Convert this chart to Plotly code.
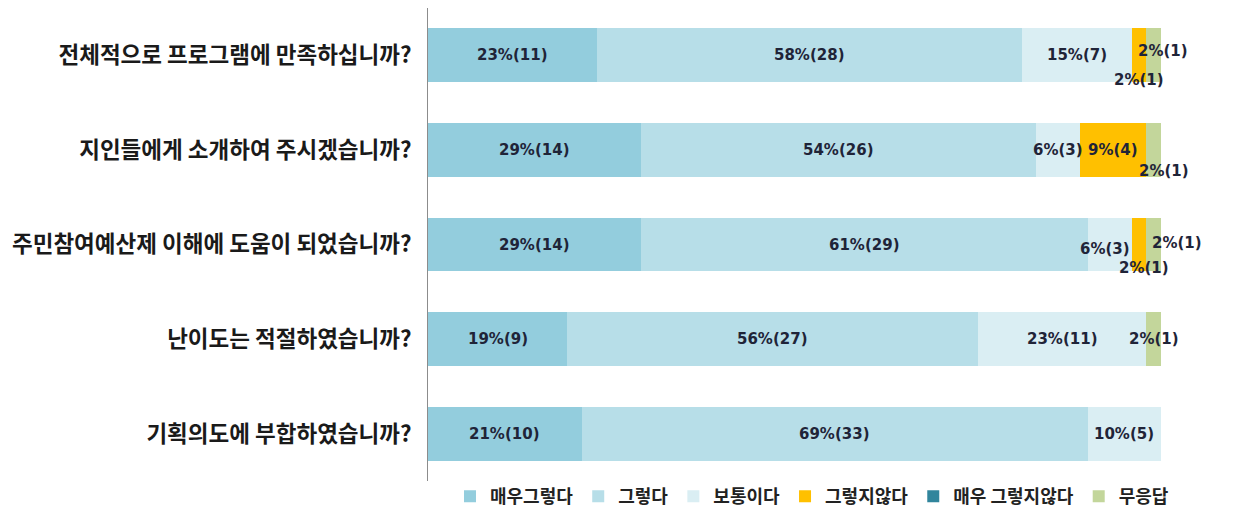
import plotly.graph_objects as go

questions = [
    "전체적으로 프로그램에 만족하십니까?",
    "지인들에게 소개하여 주시겠습니까?",
    "주민참여예산제 이해에 도움이 되었습니까?",
    "난이도는 적절하였습니까?",
    "기획의도에 부합하였습니까?",
]
series_names = ["매우그렇다", "그렇다", "보통이다", "그렇지않다", "매우 그렇지않다", "무응답"]
colors = ["#93CDDD", "#B7DEE8", "#DAEEF3", "#FFC000", "#31859C", "#C3D69B"]

# percentages per series (one value per question)
pct = {
    "매우그렇다":     [23, 29, 29, 19, 21],
    "그렇다":         [58, 54, 61, 56, 69],
    "보통이다":       [15, 6, 6, 23, 10],
    "그렇지않다":     [2, 9, 2, 0, 0],
    "매우 그렇지않다": [0, 0, 0, 0, 0],
    "무응답":         [2, 2, 2, 2, 0],
}
# respondent counts per series
counts = {
    "매우그렇다":     [11, 14, 14, 9, 10],
    "그렇다":         [28, 26, 29, 27, 33],
    "보통이다":       [7, 3, 3, 11, 5],
    "그렇지않다":     [1, 4, 1, 0, 0],
    "매우 그렇지않다": [0, 0, 0, 0, 0],
    "무응답":         [1, 1, 1, 1, 0],
}

# label offsets (pixels) for small segments: (series, question index) -> (xshift, yshift)
label_shift = {
    ("그렇지않다", 0): (0, -25),
    ("무응답", 0): (9, 4),
    ("무응답", 1): (10, -21),
    ("보통이다", 2): (-5, -4),
    ("그렇지않다", 2): (5, -23),
    ("무응답", 2): (23, 2),
}

label_font = dict(family="DejaVu Sans", size=15, color="#1F2438", weight="bold")

fig = go.Figure()
for name, col in zip(series_names, colors):
    fig.add_trace(go.Bar(
        y=questions, x=pct[name], name=name, orientation="h",
        marker=dict(color=col, line=dict(width=0)),
        hoverinfo="skip",
    ))

annotations = []
for qi, q in enumerate(questions):
    cum = 0
    for name in series_names:
        v = pct[name][qi]
        if v > 0:
            xs, ys = label_shift.get((name, qi), (0, 0))
            annotations.append(dict(
                x=cum + v / 2, y=q, xref="x", yref="y",
                text=f"{v}%({counts[name][qi]})", showarrow=False,
                font=label_font, xshift=xs, yshift=ys,
            ))
        cum += v

fig.update_layout(
    barmode="stack",
    bargap=0.43,
    width=1234, height=511,
    margin=dict(l=428, r=73, t=8, b=30, autoexpand=False),
    plot_bgcolor="white", paper_bgcolor="white",
    annotations=annotations,
    showlegend=True,
    legend=dict(
        orientation="h", x=0.03, xanchor="left", y=0.006, yanchor="top",
        font=dict(family="Noto Sans CJK KR", size=18, color="#222222", weight="bold"),
        itemwidth=30, traceorder="normal",
    ),
    xaxis=dict(range=[0, 100], showgrid=False, showticklabels=False, zeroline=False,
               showline=False, fixedrange=True),
    yaxis=dict(autorange="reversed", showgrid=False, showline=True, linecolor="#8C8C8C",
               linewidth=1, ticks="", ticklabelstandoff=11, automargin=False,
               tickfont=dict(family="Noto Sans CJK KR", size=22.5, color="#1A1A1A", weight="bold")),
)

fig.write_html("out.html", config={"displayModeBar": False},
               post_script="document.body.style.margin='0';")
